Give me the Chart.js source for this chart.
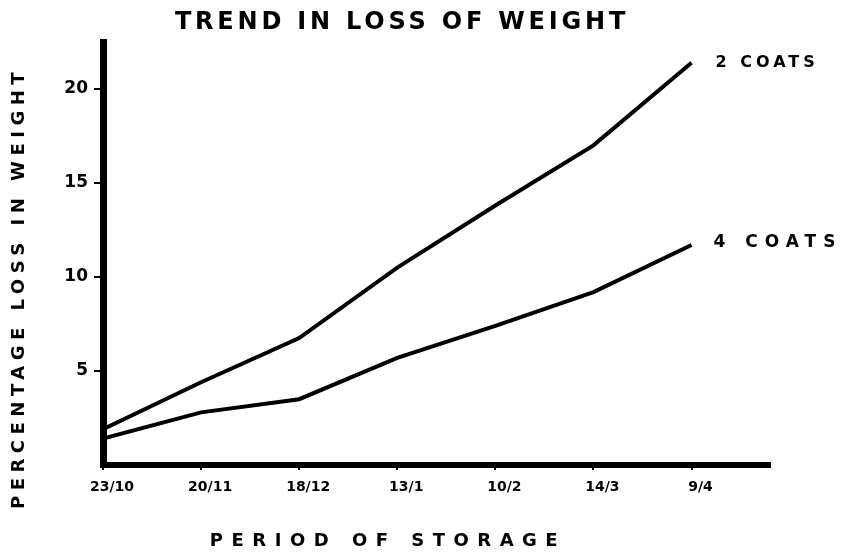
<!DOCTYPE html>
<html><head><meta charset="utf-8">
<script src="https://cdn.jsdelivr.net/npm/chart.js@4"></script>
<style>html,body{margin:0;padding:0;background:#fff}#wrap{width:853px;height:553px;position:relative}</style>
</head><body><div id="wrap"><canvas id="c"></canvas></div>
<script>
const periods = ["23/10","20/11","18/12","13/1","10/2","14/3","9/4"];
const twoCoats = [1.9, 4.4, 6.75, 10.5, 13.8, 17.0, 21.4];
const fourCoats = [1.4, 2.8, 3.5, 5.7, 7.4, 9.2, 11.7];
const seriesNames = ["2 COATS", "4 COATS"];
const yTickValues = [5, 10, 15, 20];
const chartTitle = "TREND IN LOSS OF WEIGHT";
const xAxisTitle = "PERIOD OF STORAGE";
const yAxisTitle = "PERCENTAGE LOSS IN WEIGHT";

const FONT = '"DejaVu Sans", sans-serif';

const textPlugin = {
  id: 'handText',
  afterDraw(chart) {
    const ctx = chart.ctx;
    const put = (txt, x, y, size, spacing, align, rot) => {
      ctx.save();
      ctx.font = 'bold ' + size + 'px ' + FONT;
      ctx.fillStyle = '#000';
      ctx.letterSpacing = spacing + 'px';
      ctx.textAlign = align;
      ctx.textBaseline = 'middle';
      ctx.translate(x, y);
      if (rot) ctx.rotate(rot);
      ctx.fillText(txt, 0, 0);
      ctx.restore();
    };
    put(chartTitle, 402, 23, 24, 3.8, 'center');
    put(xAxisTitle, 388, 541, 18, 8.5, 'center');
    put(yAxisTitle, 19, 288, 18, 5.5, 'center', -Math.PI / 2);
    const xs = chart.scales.x, ys = chart.scales.y;
    const last = periods.length - 1;
    put(seriesNames[0], xs.getPixelForValue(last) + 24, ys.getPixelForValue(twoCoats[last]) - 0, 16, 4, 'left');
    put(seriesNames[1], xs.getPixelForValue(last) + 22, ys.getPixelForValue(fourCoats[last]) - 2, 17, 7, 'left');
  }
};

const toPts = arr => arr.map((v, i) => ({x: i, y: v}));

new Chart(document.getElementById('c'), {
  type: 'line',
  data: {
    datasets: [
      {label: seriesNames[0], data: toPts(twoCoats), borderColor: '#000', borderWidth: 4, pointRadius: 0, tension: 0},
      {label: seriesNames[1], data: toPts(fourCoats), borderColor: '#000', borderWidth: 4, pointRadius: 0, tension: 0}
    ]
  },
  options: {
    responsive: true,
    maintainAspectRatio: false,
    animation: false,
    layout: {padding: {top: 42, right: 83, left: 0, bottom: 0}},
    plugins: {legend: {display: false}, title: {display: false}, tooltip: {enabled: false}},
    scales: {
      x: {
        type: 'linear', min: 0, max: 6.8,
        afterBuildTicks(s) { s.ticks = periods.map((_, i) => ({value: i})); },
        afterFit(s) { s.height = 88; },
        grid: {drawOnChartArea: false, drawTicks: true, tickLength: 5, color: '#000', lineWidth: 2},
        border: {display: true, color: '#000', width: 6},
        ticks: {
          callback: v => periods[v] ?? '',
          color: '#000', font: {family: FONT, weight: 'bold', size: 14},
          padding: 9, labelOffset: 9, maxRotation: 0, autoSkip: false
        }
      },
      y: {
        min: 0, max: 22.5,
        afterBuildTicks(s) { s.ticks = yTickValues.map(v => ({value: v})); },
        afterFit(s) { s.width = 103; },
        grid: {drawOnChartArea: false, drawTicks: true, tickLength: 9, color: '#000', lineWidth: 2},
        border: {display: true, color: '#000', width: 7},
        ticks: {color: '#000', font: {family: FONT, weight: 'bold', size: 17}, padding: 6}
      }
    }
  },
  plugins: [textPlugin]
});
</script>
</body></html>
